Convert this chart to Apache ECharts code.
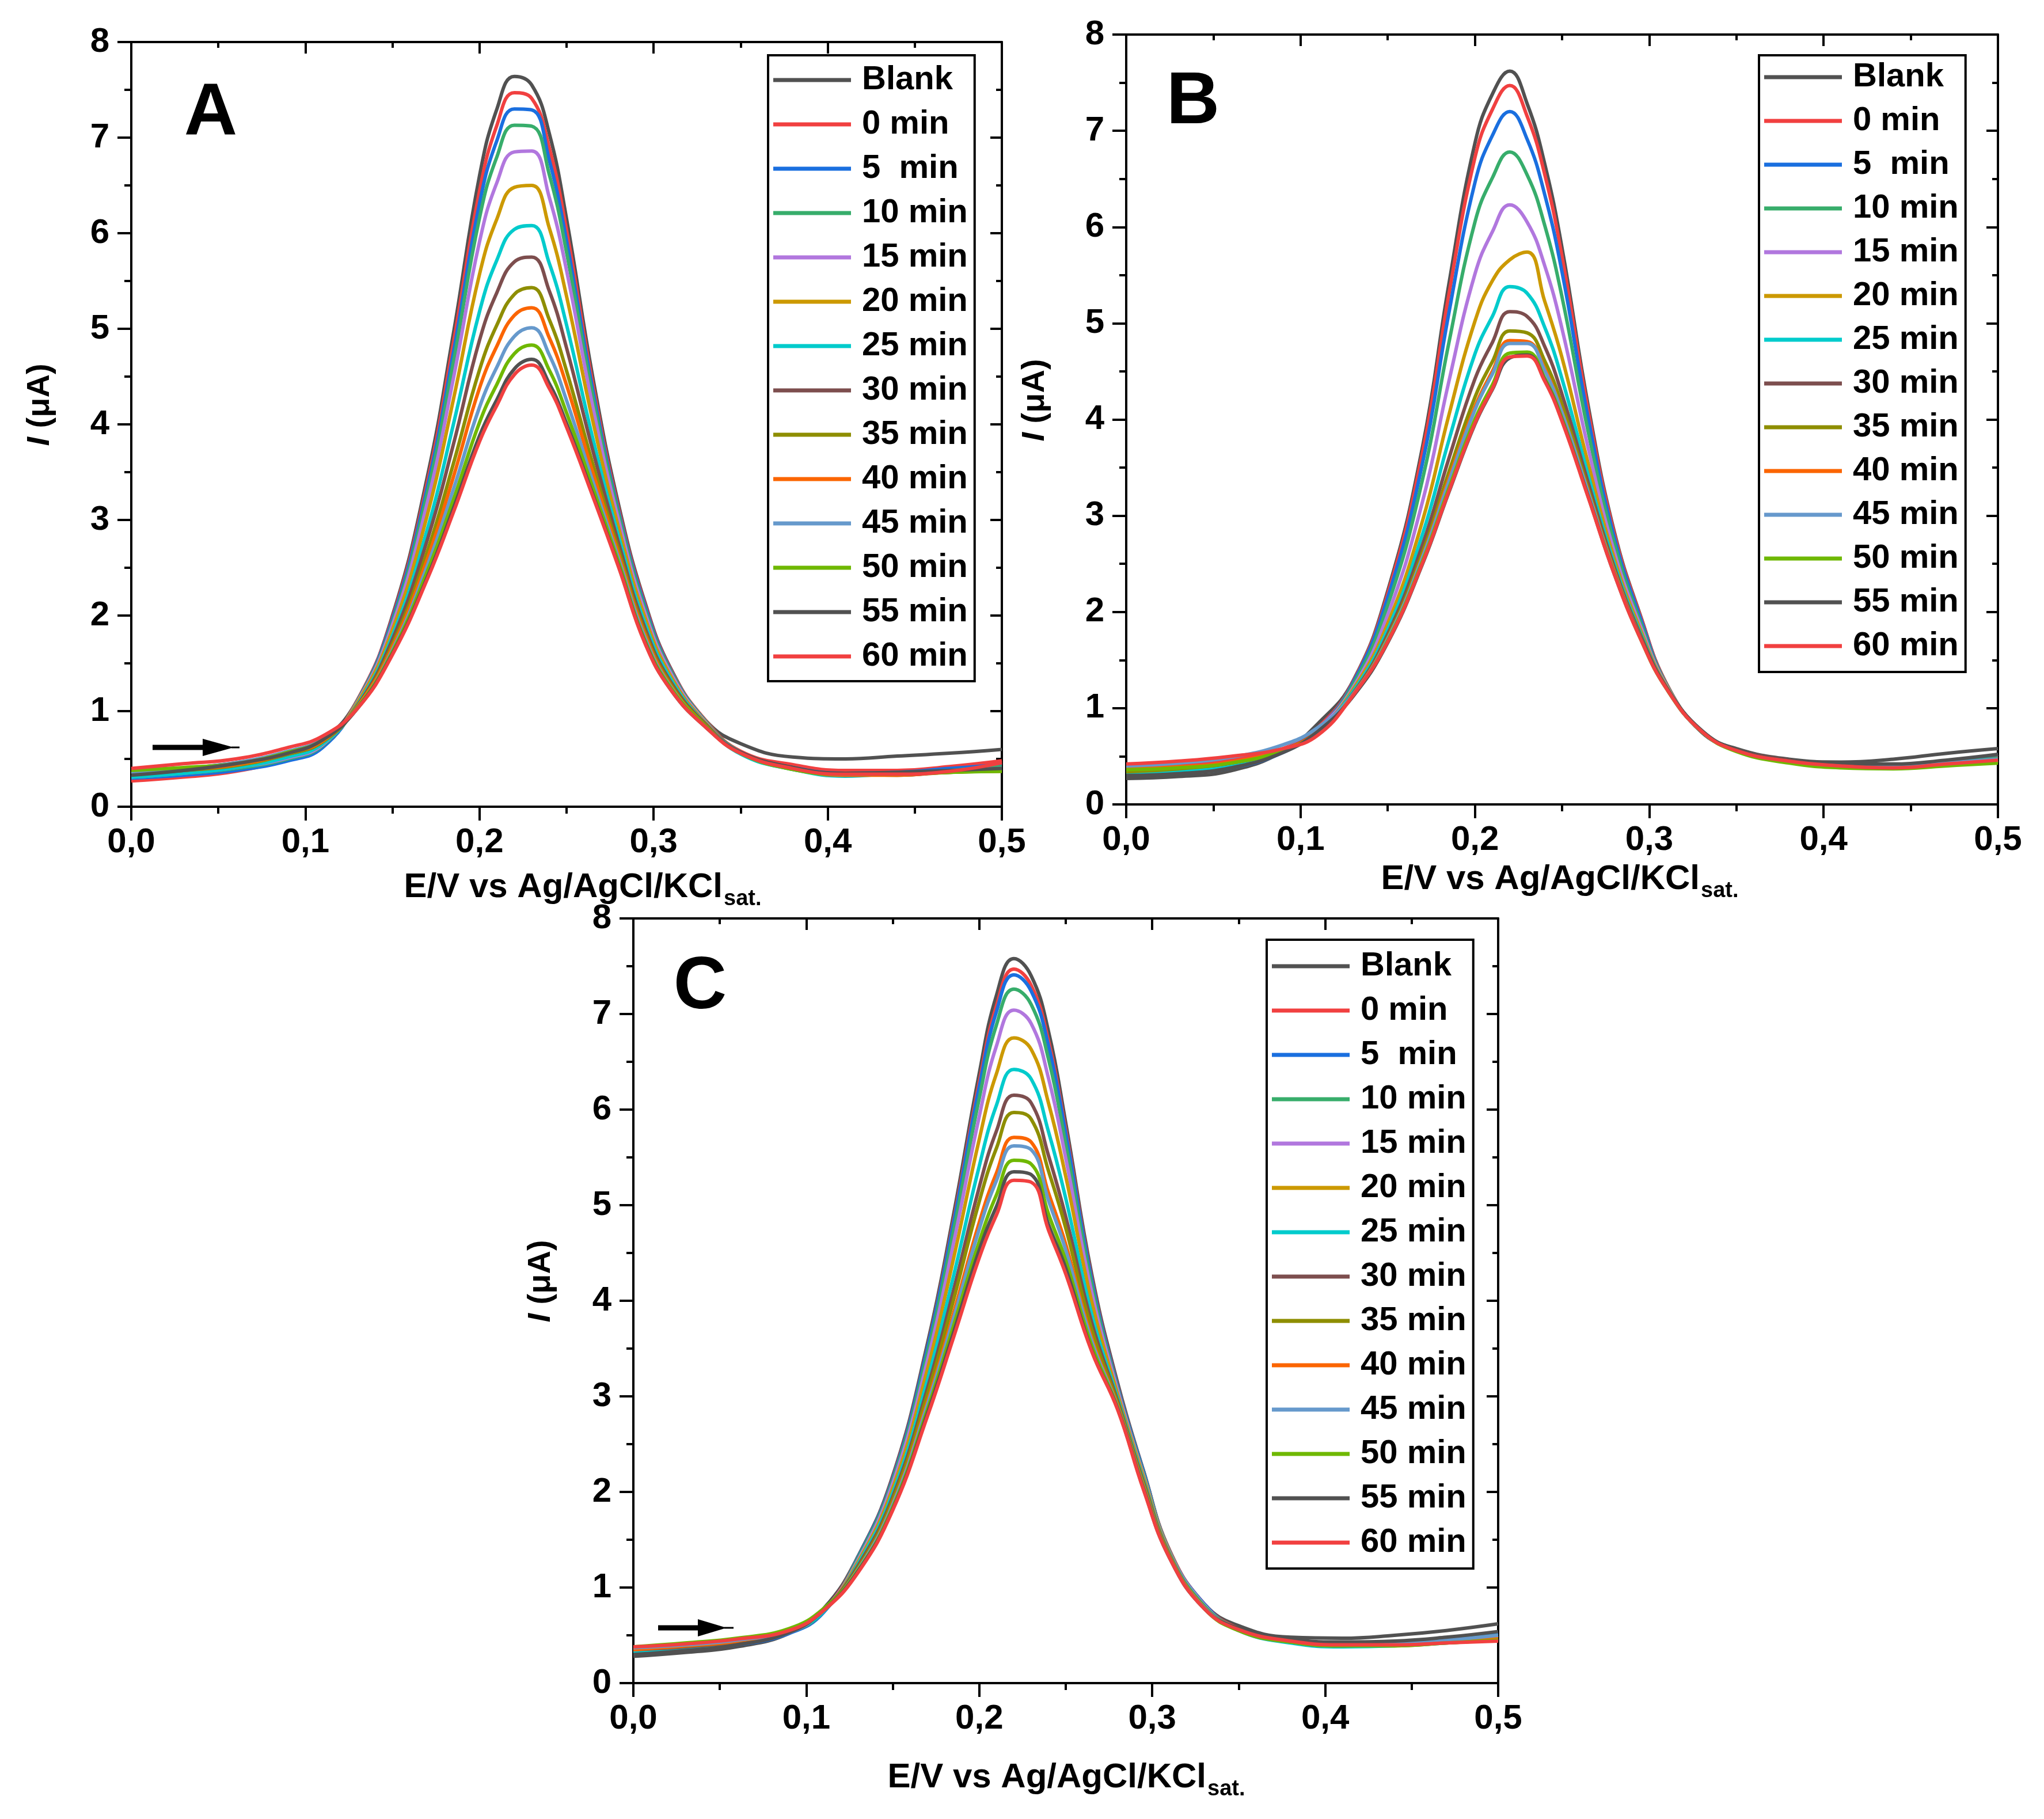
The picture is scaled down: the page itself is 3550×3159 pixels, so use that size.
<!DOCTYPE html>
<html><head><meta charset="utf-8">
<script src="https://cdn.jsdelivr.net/npm/echarts@6/dist/echarts.min.js"></script>
<style>html,body{margin:0;padding:0;background:#fff}#c{width:3550px;height:3159px}</style>
</head><body><div id="c"></div>
<script>
// Potential grid (V)
const E = [0,0.03,0.06,0.09,0.11,0.13,0.15,0.17,0.185,0.2,0.21,0.22,0.23,0.24,0.25,0.265,0.28,0.295,0.31,0.33,0.35,0.38,0.41,0.44,0.47,0.5];
const names = ['Blank','0 min','5  min','10 min','15 min','20 min','25 min','30 min','35 min','40 min','45 min','50 min','55 min','60 min'];
const colors = ['#515151','#F14040','#1A6FDF','#37AD6B','#B177DE','#CC9900','#00CBCC','#7D4E4E','#8E8E00','#FB6501','#6699CC','#6FB802','#515151','#F14040'];
const xTickLabels = ['0,0','0,1','0,2','0,3','0,4','0,5'];
const yTickLabels = ['0','1','2','3','4','5','6','7','8'];

// Panel A currents (µA)
const aBlank=[.36,.40,.46,.56,.70,1.12,2.00,3.45,4.95,6.60,7.30,7.64,7.55,7.05,6.15,4.50,3.15,2.14,1.44,.90,.66,.52,.50,.53,.56,.60];
const a0=[.27,.31,.37,.50,.64,1.12,1.98,3.39,4.85,6.44,7.13,7.47,7.41,6.90,6.03,4.43,3.11,2.12,1.43,.90,.58,.44,.38,.38,.42,.48];
const a5=[.30,.33,.38,.48,.62,1.11,1.96,3.34,4.75,6.31,6.97,7.30,7.29,6.77,5.92,4.37,3.08,2.10,1.42,.89,.56,.41,.35,.36,.40,.44];
const a10=[.33,.35,.40,.50,.64,1.11,1.93,3.28,4.65,6.16,6.80,7.13,7.12,6.62,5.80,4.30,3.05,2.07,1.41,.89,.57,.40,.34,.34,.38,.42];
const a15=[.31,.35,.41,.51,.65,1.10,1.90,3.18,4.48,5.91,6.53,6.85,6.86,6.38,5.61,4.19,2.99,2.03,1.39,.88,.56,.39,.34,.33,.37,.40];
const a20=[.34,.37,.42,.53,.66,1.09,1.85,3.05,4.26,5.57,6.15,6.48,6.50,6.06,5.34,4.04,2.91,1.98,1.36,.87,.56,.40,.33,.34,.36,.38];
const a25=[.31,.35,.41,.52,.66,1.07,1.79,2.90,4.00,5.18,5.72,6.04,6.08,5.69,5.04,3.86,2.82,1.92,1.33,.86,.55,.39,.32,.35,.37,.39];
const a30=[.35,.38,.44,.55,.68,1.06,1.75,2.79,3.79,4.88,5.38,5.70,5.75,5.40,4.80,3.73,2.75,1.87,1.30,.86,.57,.41,.33,.34,.36,.39];
const a35=[.34,.38,.43,.55,.68,1.05,1.70,2.67,3.59,4.57,5.04,5.36,5.43,5.10,4.56,3.59,2.68,1.83,1.28,.85,.56,.40,.34,.33,.36,.37];
const a40=[.36,.39,.44,.56,.69,1.05,1.67,2.59,3.45,4.38,4.82,5.14,5.22,4.91,4.41,3.50,2.63,1.80,1.26,.84,.56,.40,.33,.33,.37,.39];
const a45=[.35,.40,.46,.58,.71,1.04,1.64,2.52,3.32,4.18,4.60,4.92,5.01,4.73,4.25,3.41,2.59,1.77,1.25,.84,.57,.40,.34,.35,.38,.40];
const a50=[.38,.41,.45,.57,.70,1.04,1.62,2.46,3.21,4.02,4.42,4.74,4.83,4.57,4.12,3.34,2.55,1.74,1.24,.84,.56,.39,.34,.34,.36,.37];
const a55=[.33,.38,.45,.56,.70,1.03,1.60,2.40,3.12,3.88,4.26,4.58,4.68,4.43,4.01,3.27,2.51,1.72,1.22,.83,.57,.41,.35,.36,.38,.40];
const a60=[.40,.45,.50,.62,.74,1.03,1.59,2.38,3.08,3.82,4.20,4.52,4.62,4.38,3.97,3.25,2.50,1.71,1.22,.83,.56,.40,.34,.34,.37,.46];

// Panel B currents (µA)
const bBlank=[.27,.29,.35,.55,.84,1.28,2.22,3.72,5.40,6.87,7.38,7.62,7.28,6.66,5.78,4.14,2.83,1.96,1.25,.75,.58,.47,.44,.47,.53,.58];
const b0=[.38,.40,.46,.58,.80,1.27,2.19,3.66,5.29,6.72,7.22,7.47,7.15,6.55,5.69,4.09,2.81,1.95,1.25,.76,.57,.46,.41,.41,.45,.50];
const b5=[.31,.33,.38,.54,.78,1.26,2.15,3.55,5.10,6.46,6.95,7.20,6.91,6.34,5.53,4.01,2.77,1.93,1.24,.76,.56,.45,.40,.40,.44,.52];
const b10=[.34,.36,.41,.56,.78,1.24,2.07,3.38,4.79,6.05,6.51,6.78,6.54,6.02,5.27,3.87,2.71,1.89,1.24,.76,.57,.45,.40,.39,.43,.48];
const b15=[.33,.36,.42,.57,.79,1.21,1.97,3.15,4.39,5.51,5.95,6.23,6.05,5.60,4.94,3.70,2.62,1.85,1.23,.76,.56,.44,.39,.38,.42,.46];
const b20=[.35,.37,.42,.56,.77,1.19,1.88,2.95,4.04,5.02,5.44,5.66,5.74,5.23,4.64,3.54,2.55,1.81,1.22,.76,.56,.44,.39,.39,.42,.45];
const b25=[.32,.35,.41,.56,.77,1.17,1.82,2.81,3.78,4.68,5.07,5.38,5.31,4.96,4.42,3.42,2.50,1.78,1.21,.76,.56,.45,.40,.39,.41,.45];
const b30=[.36,.38,.43,.57,.77,1.15,1.77,2.70,3.59,4.42,4.80,5.12,5.07,4.76,4.26,3.34,2.46,1.76,1.21,.76,.57,.45,.40,.40,.43,.47];
const b35=[.34,.37,.43,.56,.76,1.14,1.74,2.62,3.45,4.23,4.60,4.92,4.90,4.61,4.15,3.28,2.43,1.74,1.20,.76,.56,.44,.39,.38,.41,.45];
const b40=[.37,.39,.44,.57,.76,1.14,1.72,2.58,3.38,4.13,4.50,4.82,4.81,4.53,4.08,3.25,2.42,1.73,1.20,.76,.56,.45,.40,.39,.42,.46];
const b45=[.40,.43,.49,.62,.80,1.14,1.72,2.57,3.35,4.10,4.47,4.79,4.79,4.51,4.07,3.24,2.41,1.73,1.20,.76,.56,.44,.40,.39,.43,.47];
const b50=[.36,.38,.43,.56,.75,1.13,1.70,2.53,3.28,4.00,4.36,4.69,4.70,4.43,4.01,3.20,2.40,1.72,1.20,.76,.55,.43,.38,.37,.40,.43];
const b55=[.30,.32,.38,.54,.76,1.12,1.68,2.50,3.24,3.95,4.31,4.64,4.67,4.41,3.99,3.20,2.39,1.73,1.21,.77,.57,.46,.42,.42,.46,.52];
const b60=[.42,.45,.50,.58,.72,1.13,1.69,2.51,3.25,3.96,4.32,4.65,4.66,4.40,3.98,3.19,2.39,1.72,1.20,.76,.56,.45,.40,.38,.42,.46];

// Panel C currents (µA)
const cBlank=[.28,.32,.38,.52,.78,1.33,2.17,3.55,4.89,6.38,7.20,7.58,7.40,6.82,5.86,4.28,3.14,2.22,1.39,.83,.60,.48,.47,.50,.55,.62];
const c0=[.36,.40,.44,.54,.76,1.32,2.15,3.51,4.83,6.29,7.09,7.47,7.30,6.72,5.79,4.24,3.11,2.21,1.39,.83,.57,.44,.40,.41,.43,.46];
const c5=[.32,.35,.40,.52,.74,1.32,2.14,3.50,4.80,6.24,7.03,7.41,7.24,6.67,5.75,4.22,3.10,2.21,1.38,.83,.56,.44,.41,.42,.46,.52];
const c10=[.33,.37,.42,.53,.75,1.31,2.12,3.45,4.72,6.12,6.89,7.26,7.10,6.53,5.64,4.17,3.08,2.19,1.38,.82,.56,.43,.40,.41,.45,.50];
const c15=[.31,.35,.41,.53,.76,1.29,2.09,3.37,4.59,5.93,6.67,7.04,6.90,6.33,5.49,4.09,3.06,2.17,1.37,.82,.55,.43,.39,.40,.43,.47];
const c20=[.34,.37,.42,.54,.76,1.27,2.04,3.28,4.43,5.69,6.38,6.75,6.63,6.07,5.30,3.99,3.02,2.15,1.36,.81,.56,.44,.39,.39,.42,.45];
const c25=[.32,.36,.42,.54,.75,1.25,1.99,3.17,4.25,5.41,6.05,6.42,6.32,5.77,5.07,3.86,2.98,2.12,1.35,.81,.55,.42,.38,.39,.42,.46];
const c30=[.35,.38,.43,.55,.77,1.23,1.95,3.08,4.10,5.19,5.78,6.15,6.07,5.52,4.88,3.77,2.95,2.10,1.34,.80,.56,.43,.39,.40,.43,.48];
const c35=[.36,.39,.44,.56,.77,1.21,1.92,3.02,4.00,5.04,5.60,5.97,5.90,5.36,4.76,3.70,2.93,2.08,1.33,.80,.55,.43,.40,.41,.44,.49];
const c40=[.35,.39,.44,.55,.76,1.19,1.88,2.94,3.86,4.82,5.34,5.71,5.66,5.13,4.59,3.61,2.90,2.06,1.33,.79,.56,.44,.40,.40,.43,.47];
const c45=[.37,.40,.45,.55,.77,1.19,1.87,2.91,3.81,4.75,5.26,5.62,5.58,5.05,4.53,3.58,2.89,2.05,1.32,.79,.56,.44,.41,.42,.45,.50];
const c50=[.38,.42,.47,.57,.78,1.18,1.84,2.86,3.73,4.62,5.11,5.47,5.43,4.91,4.42,3.53,2.88,2.04,1.32,.78,.55,.43,.39,.39,.42,.45];
const c55=[.30,.34,.40,.53,.76,1.17,1.82,2.82,3.66,4.53,4.99,5.35,5.32,4.80,4.34,3.48,2.87,2.03,1.31,.78,.57,.46,.43,.44,.48,.54];
const c60=[.38,.41,.46,.55,.76,1.16,1.81,2.79,3.61,4.45,4.90,5.26,5.24,4.74,4.28,3.47,2.86,2.02,1.31,.78,.56,.44,.40,.40,.42,.44];

const panels = [
  [aBlank,a0,a5,a10,a15,a20,a25,a30,a35,a40,a45,a50,a55,a60],
  [bBlank,b0,b5,b10,b15,b20,b25,b30,b35,b40,b45,b50,b55,b60],
  [cBlank,c0,c5,c10,c15,c20,c25,c30,c35,c40,c45,c50,c55,c60]
];

const FONT = '"Liberation Sans", Arial, sans-serif';
const grids = [
  {left:228, top:73, width:1512, height:1328},
  {left:1956, top:60, width:1514, height:1337},
  {left:1100, top:1595, width:1502, height:1328}
];
const axLine = {show:true, onZero:false, lineStyle:{color:'#000', width:4}};
const tickStyle = {color:'#000', width:4};

const xAxes = [], yAxes = [];
grids.forEach((g, i) => {
  xAxes.push({type:'value', gridIndex:i, position:'bottom', min:0, max:0.5, interval:0.1,
    axisLine:axLine, axisTick:{show:true, inside:false, length:24, lineStyle:tickStyle},
    minorTick:{show:true, splitNumber:2, length:12, lineStyle:tickStyle},
    axisLabel:{show:true, margin:32, fontSize:60, lineHeight:60, fontWeight:'bold', fontFamily:FONT, color:'#000',
      formatter:v => xTickLabels[Math.round(v*10)]},
    splitLine:{show:false}, minorSplitLine:{show:false}});
  xAxes.push({type:'value', gridIndex:i, position:'top', min:0, max:0.5, interval:0.1,
    axisLine:axLine, axisTick:{show:true, inside:true, length:20, lineStyle:tickStyle},
    minorTick:{show:true, splitNumber:2, length:10, lineStyle:tickStyle},
    axisLabel:{show:false}, splitLine:{show:false}});
  yAxes.push({type:'value', gridIndex:i, position:'left', min:0, max:8, interval:1,
    axisLine:axLine, axisTick:{show:true, inside:false, length:24, lineStyle:tickStyle},
    minorTick:{show:true, splitNumber:2, length:12, lineStyle:tickStyle},
    axisLabel:{show:true, margin:38, fontSize:60, fontWeight:'bold', fontFamily:FONT, color:'#000',
      formatter:v => yTickLabels[Math.round(v)]},
    splitLine:{show:false}});
  yAxes.push({type:'value', gridIndex:i, position:'right', min:0, max:8, interval:1,
    axisLine:axLine, axisTick:{show:true, inside:true, length:20, lineStyle:tickStyle},
    minorTick:{show:true, splitNumber:2, length:10, lineStyle:tickStyle},
    axisLabel:{show:false}, splitLine:{show:false}});
});

const series = [];
panels.forEach((arrs, p) => {
  arrs.forEach((ys, k) => {
    series.push({type:'line', name:names[k], xAxisIndex:2*p, yAxisIndex:2*p,
      data:E.map((x, i) => [x, ys[i]]), showSymbol:false, symbol:'none',
      smooth:0.45, silent:true,
      lineStyle:{width:6, color:colors[k]}, itemStyle:{color:colors[k]}});
  });
});

function legendAt(left, top, padTop, padBottom, gap) {
  return {data:names, orient:'vertical', left:left, top:top, icon:'rect',
    itemWidth:135, itemHeight:7, itemGap:gap, padding:[padTop,12,padBottom,9],
    borderColor:'#000', borderWidth:4, backgroundColor:'#fff', selectedMode:false,
    textStyle:{fontSize:58, lineHeight:60, fontWeight:'bold', fontFamily:FONT, color:'#000', padding:[0,0,0,14]}};
}

function txt(x, y, text, size, opts) {
  return Object.assign({type:'text', x:x, y:y, silent:true,
    style:Object.assign({text:text, font:'bold ' + size + 'px ' + FONT, fill:'#000',
      align:'center', verticalAlign:'middle', textAlign:'center', textVerticalAlign:'middle'}, (opts && opts.style) || {})},
    (opts && opts.el) || {});
}
function yTitle(x, y) {
  return {type:'text', x:x, y:y, rotation:Math.PI/2, silent:true,
    style:{text:'{i|I} (μA)', font:'bold 56px ' + FONT, fill:'#000', align:'center', verticalAlign:'middle',
      textAlign:'center', textVerticalAlign:'middle',
      rich:{i:{fontStyle:'italic', fontWeight:'bold', fontSize:56, fontFamily:FONT, fill:'#000'}}}};
}
function xTitle(xr, y) {
  return [
    txt(xr, y, 'E/V vs Ag/AgCl/KCl', 60, {style:{align:'right', textAlign:'right'}}),
    txt(xr + 2, y + 21, 'sat.', 38, {style:{align:'left', textAlign:'left'}})
  ];
}
function arrow(x0, x1, xh, xt, y) {
  return [
    {type:'line', silent:true, shape:{x1:x0, y1:y, x2:xh + 5, y2:y}, style:{stroke:'#000', lineWidth:9}},
    {type:'polygon', silent:true, shape:{points:[[xh, y - 15], [xt, y], [xh, y + 15]]}, style:{fill:'#000'}},
    {type:'line', silent:true, shape:{x1:xt - 4, y1:y, x2:x1, y2:y}, style:{stroke:'#000', lineWidth:3}}
  ];
}

const graphic = [].concat(
  [txt(366, 199, 'A', 128), txt(2072, 179, 'B', 128), txt(1216, 1716, 'C', 128)],
  [yTitle(70, 703), yTitle(1798, 695), yTitle(940, 2225)],
  xTitle(1255, 1541), xTitle(2952, 1527), xTitle(2095, 3087),
  arrow(265, 416, 352, 406, 1298), arrow(1143, 1274, 1212, 1262, 2827)
);

const chart = echarts.init(document.getElementById('c'), null, {renderer:'canvas', width:3550, height:3159});
chart.setOption({
  animation:false,
  backgroundColor:'#fff',
  grid:grids.map(g => Object.assign({containLabel:false}, g)),
  xAxis:xAxes, yAxis:yAxes,
  legend:[legendAt(1334, 96, 13, 13, 17), legendAt(3055, 96, 8, 15, 16), legendAt(2200, 1632, 16, 15, 17)],
  series:series,
  graphic:graphic
});
</script></body></html>
